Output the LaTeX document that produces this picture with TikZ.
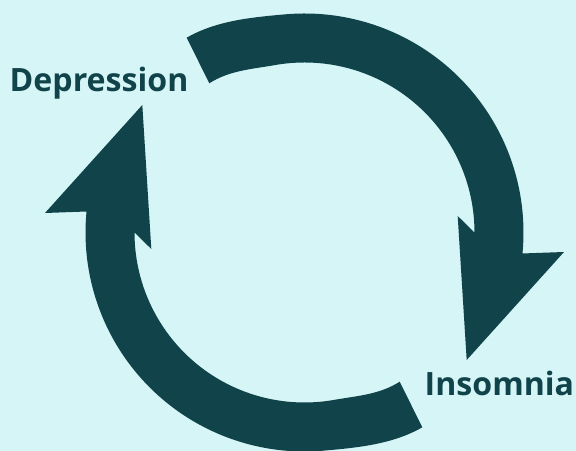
\documentclass[tikz,border=0pt]{standalone}
\usepackage{fontspec}
\setsansfont{Open Sans}
\definecolor{CycleTeal}{HTML}{10434A}
\definecolor{PaleCyan}{HTML}{D6F5F6}
\usetikzlibrary{positioning}
\tikzset{
  % Shape styles
  cyclearrow/.style={fill=CycleTeal, draw=none},
  % Text styles
  looplabel/.style={font=\sffamily\bfseries\fontsize{27.4}{33}\selectfont, text=CycleTeal, inner sep=0pt, anchor=base west}
}

\begin{document}
\begin{tikzpicture}[x=0.03cm, y=0.03cm]
  % Background
  \fill[PaleCyan] (0,0) rectangle (576,451);
  \useasboundingbox (0,0) rectangle (576,451);
  \coordinate (C) at (304.5,218.5);

  % Two arrows, the second one a half-turn of the first
  \foreach \turn in {0,180} {
    \begin{scope}[shift={(C)}, rotate=\turn]
      \fill[cyclearrow] (-117.8,194.8) .. controls +(30:34) and +(185:34) .. (95:219)
        arc[start angle=95, end angle=-5.5, radius=219]
        -- (259.5,-19.5) -- (162.2,-127.5) -- (153.2,16.5) -- (0:170)
        arc[start angle=0, end angle=100, radius=170]
        .. controls +(190:24) and +(32.5:24) .. (-95.2,149.2) -- cycle;
    \end{scope}
  }

  % Labels
  \node[looplabel] (dep) at (9.5,359.3) {Depression};
  \node[looplabel] (ins) at (424.5,55.3) {Insomnia};
\end{tikzpicture}
\end{document}
